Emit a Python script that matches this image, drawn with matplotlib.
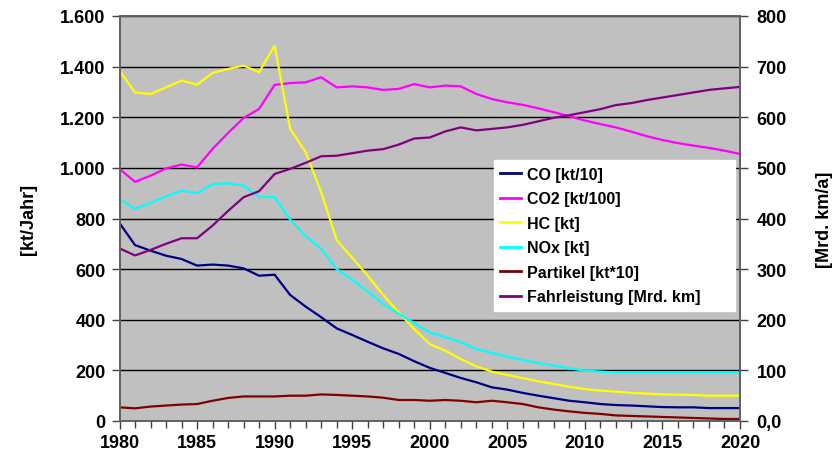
import matplotlib
matplotlib.use("Agg")
import matplotlib.pyplot as plt
import numpy as np

years = list(range(1980, 2021))

co = [782, 695, 673, 653, 640, 614, 618, 614, 603, 574,
      578, 498, 452, 410, 366, 340, 313, 287, 265, 236,
      210, 190, 170, 153, 133, 124, 111, 100, 90, 80,
      74, 67, 63, 61, 58, 55, 54, 54, 51, 51, 51]
co2 = [996, 945, 969, 998, 1013, 1002, 1075, 1138, 1197, 1233,
       1328, 1335, 1338, 1358, 1318, 1322, 1318, 1308, 1312, 1331,
       1318, 1325, 1322, 1292, 1272, 1259, 1249, 1235, 1220, 1204,
       1187, 1173, 1160, 1143, 1125, 1110, 1098, 1088, 1079, 1068, 1055]
hc = [1384, 1298, 1292, 1318, 1345, 1329, 1375, 1391, 1404, 1378,
      1483, 1154, 1062, 904, 715, 645, 574, 498, 429, 363,
      304, 278, 245, 216, 195, 182, 169, 157, 146, 135,
      126, 120, 116, 111, 108, 105, 104, 103, 100, 100, 100]
nox = [877, 838, 861, 888, 910, 900, 936, 939, 930, 886,
       884, 795, 730, 680, 600, 558, 511, 462, 423, 387,
       350, 331, 311, 284, 269, 254, 241, 229, 219, 208,
       199, 195, 192, 192, 192, 192, 192, 192, 192, 192, 192]
partikel = [54, 50, 57, 61, 65, 67, 80, 91, 97, 97,
            97, 100, 100, 105, 103, 100, 97, 92, 83, 83,
            80, 83, 80, 74, 80, 74, 67, 54, 45, 38,
            32, 28, 22, 20, 18, 16, 14, 12, 10, 8, 8]
fahrleistung = [341, 327, 338, 350, 361, 361, 386, 415, 442, 454,
                488, 498, 510, 523, 524, 529, 534, 537, 546, 558,
                560, 572, 580, 574, 577, 580, 585, 592, 599, 604,
                610, 616, 624, 628, 634, 639, 644, 649, 654, 657, 660]

labels = ["CO [kt/10]", "CO2 [kt/100]", "HC [kt]", "NOx [kt]",
          "Partikel [kt*10]", "Fahrleistung [Mrd. km]"]
colors = ["#000080", "#FF00FF", "#FFFF00", "#00FFFF", "#800000", "#800080"]

left_ticks = list(range(0, 1601, 200))
left_ticklabels = ["0", "200", "400", "600", "800", "1.000", "1.200", "1.400", "1.600"]
right_ticks = list(range(0, 801, 100))
right_ticklabels = ["0,0", "100", "200", "300", "400", "500", "600", "700", "800"]
x_major = list(range(1980, 2021, 5))

plt.rcParams['font.family'] = ['Liberation Sans', 'DejaVu Sans']
plt.rcParams['font.weight'] = 'bold'

fig = plt.figure(figsize=(8.36, 4.60), dpi=100)
ax = fig.add_axes([119.5 / 836, 1 - 422 / 460, 620.5 / 836, 405 / 460])
ax.set_facecolor("#C0C0C0")

lw = 1.6
handles = []
for vals, c, lab in zip([co, co2, hc, nox, partikel], colors[:5], labels[:5]):
    h, = ax.plot(years, vals, color=c, lw=lw, label=lab, solid_joinstyle='miter')
    handles.append(h)

ax.set_xlim(1980, 2020)
ax.set_ylim(0, 1600)
ax.set_yticks(left_ticks)
ax.set_yticklabels(left_ticklabels)
ax.set_xticks(x_major)
ax.set_xticks(years, minor=True)
ax.grid(axis='y', color='black', lw=1.0)
ax.set_axisbelow(True)
ax.tick_params(axis='both', which='major', labelsize=13, direction='out', length=6,
               width=1, color='#404040')
ax.tick_params(axis='x', which='minor', direction='out', length=5, width=1, color='#404040')
ax.tick_params(axis='y', which='major', pad=4)
for lbl in ax.get_xticklabels() + ax.get_yticklabels():
    lbl.set_fontweight('bold')
for s in ax.spines.values():
    s.set_color('#606060')
    s.set_linewidth(1.2)
ax.set_ylabel("[kt/Jahr]", fontsize=13, fontweight='bold', labelpad=17)

ax2 = ax.twinx()
h, = ax2.plot(years, fahrleistung, color=colors[5], lw=lw, label=labels[5])
handles.append(h)
ax2.set_ylim(0, 800)
ax2.set_yticks(right_ticks)
ax2.set_yticklabels(right_ticklabels)
ax2.tick_params(axis='y', labelsize=13, direction='out', length=6, width=1,
                color='#404040', pad=6)
for lbl in ax2.get_yticklabels():
    lbl.set_fontweight('bold')
for s in ax2.spines.values():
    s.set_color('#606060')
    s.set_linewidth(1.2)
ax2.set_ylabel("[Mrd. km/a]", fontsize=13, fontweight='bold', labelpad=21)

leg = ax2.legend(handles=handles, loc='upper left',
                 bbox_to_anchor=(0.6035, 0.2716, 0.3885, 0.3724), mode='expand',
                 borderaxespad=0, frameon=True, fancybox=False, facecolor='white',
                 edgecolor='white', framealpha=1, prop={'size': 11.5, 'weight': 'bold'},
                 handlelength=1.3, handletextpad=0.35, labelspacing=0.6, borderpad=0.4)
for line in leg.get_lines():
    line.set_linewidth(2)

fig.savefig("out.png", dpi=100, facecolor='white')
